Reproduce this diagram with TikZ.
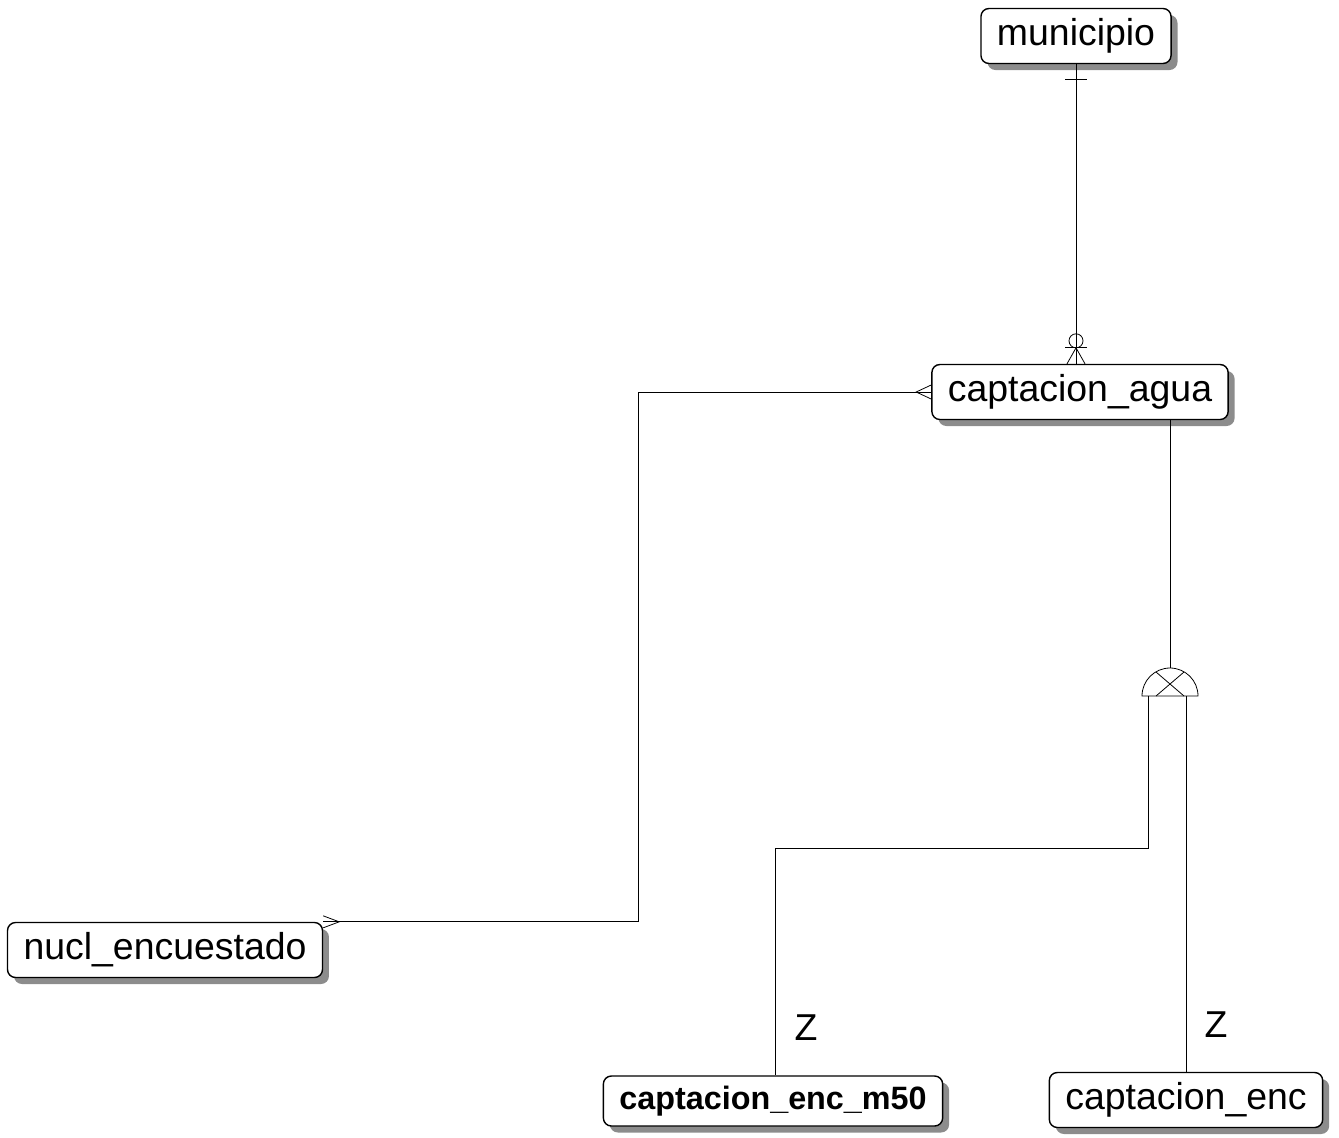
\documentclass[tikz,border=0pt]{standalone}
\usepackage{fontspec}
\setmainfont{Liberation Sans}
\usetikzlibrary{calc,shadows}
\tikzset{
  entity/.style={draw, rounded corners=0.16cm, fill=white, line width=0.8pt,
    minimum height=1.1cm, inner xsep=0.32cm, inner ysep=0pt,
    font=\fontsize{21.3}{25}\selectfont,
    drop shadow={shadow xshift=0.13cm, shadow yshift=-0.13cm, fill=black!45, opacity=1}},
  rel/.style={line width=0.45pt},
  zlabel/.style={font=\fontsize{21.3}{25}\selectfont}
}
\begin{document}
\begin{tikzpicture}[x=0.02cm, y=-0.02cm]
  \useasboundingbox (0,0) rectangle (1339,1137);
  % entities
  \node[entity] (muni) at (1076,36) {municipio};
  \node[entity] (capt) at (1080,392) {captacion\_agua};
  \node[entity] (nucl) at (165,950) {nucl\_encuestado};
  \node[entity, minimum height=1cm, font=\fontsize{18.4}{22}\selectfont\bfseries] (captm50) at (773,1101) {captacion\_enc\_m50};
  \node[entity] (capte) at (1186,1100) {captacion\_enc};
  % municipio -- captacion_agua
  \coordinate (mc) at (muni.south |- capt.north);
  \draw[rel] (muni.south) -- (mc);
  \draw[rel] ($(muni.south)+(-11,15)$) -- ++(22,0);
  \draw[rel] ($(mc)+(0,-23)$) circle[radius=7];
  \draw[rel] ($(mc)+(-11,-16)$) -- ++(22,0);
  \draw[rel] ($(mc)+(-9,0)$) -- ($(mc)+(0,-16)$) -- ($(mc)+(9,0)$);
  % captacion_agua -- nucl_encuestado
  \coordinate (bend) at (638,392);
  \draw[rel] (capt.west) -- (bend) |- (nucl.north east);
  \draw[rel] ($(capt.west)+(0,-7)$) -- ($(capt.west)+(-15,0)$) -- ($(capt.west)+(0,7)$);
  \draw[rel] ($(nucl.north east)+(0,-6)$) -- ($(nucl.north east)+(16,0)$) -- ($(nucl.north east)+(0,6)$);
  % subtype
  \coordinate (sub) at (1170,696);
  \draw[rel] (sub |- capt.south) -- ($(sub)+(0,-28)$);
  \draw[rel] ($(sub)+(-28,0)$) arc[start angle=180, end angle=360, radius=28] -- cycle;
  \draw[rel] ($(sub)+(-14,0)$) -- ($(sub)+(14,-24)$);
  \draw[rel] ($(sub)+(14,0)$) -- ($(sub)+(-14,-24)$);
  \draw[rel] ($(sub)+(-22,0)$) -- ++(0,152) -| ($(captm50.north)+(2,0)$);
  \draw[rel] ($(sub)+(16,0)$) -- (capte.north);
  \node[zlabel] (zl) at (806,1028) {Z};
  \node[zlabel] (zr) at (1216,1025) {Z};
\end{tikzpicture}
\end{document}
